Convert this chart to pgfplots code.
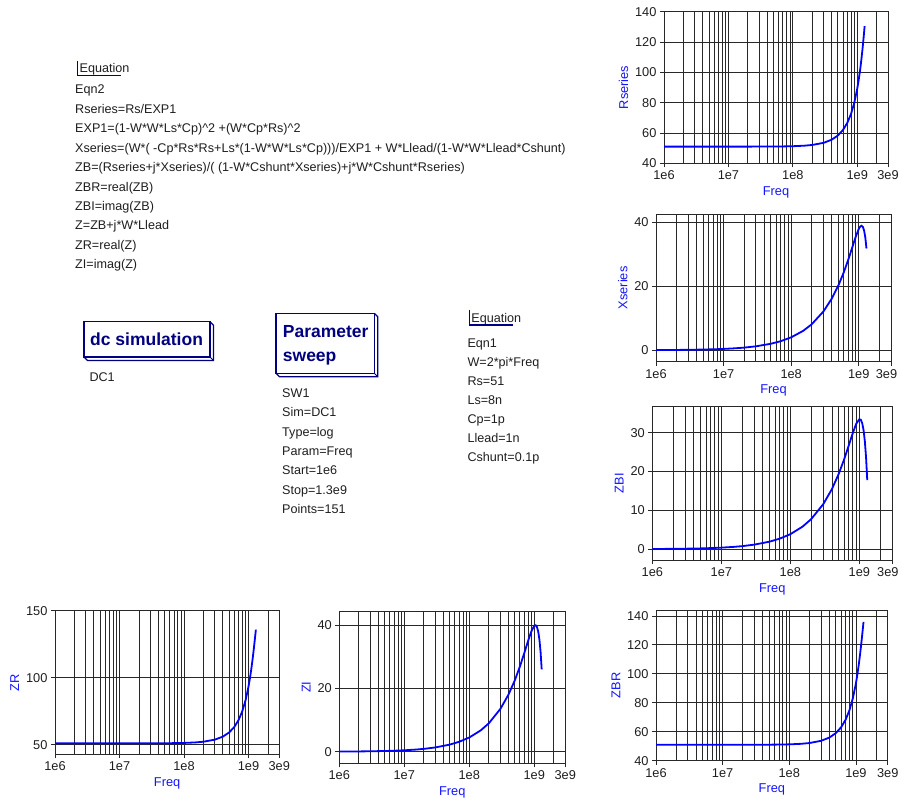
\documentclass[border=0pt]{standalone}
\usepackage{fontspec}
\setmainfont{Liberation Sans}
\usepackage{pgfplots}
\usepackage{pgfplotstable}
\pgfplotsset{compat=1.18}
\definecolor{navy}{RGB}{0,0,128}
\definecolor{gridc}{RGB}{40,40,40}
\definecolor{curve}{RGB}{15,15,240}
\definecolor{lbl}{RGB}{20,20,255}
\definecolor{txt}{RGB}{30,30,30}
\pgfplotstableread{
f R X ZBR ZBI ZI
1e6 51.000 0.0402 51.000 0.0386 0.0449
2e6 51.000 0.0804 51.000 0.0772 0.0897
3e6 51.000 0.1206 51.000 0.1157 0.1346
5e6 51.001 0.2010 51.001 0.1929 0.2243
7e6 51.001 0.2814 51.001 0.2700 0.3140
1e7 51.003 0.4021 51.004 0.3857 0.4486
1.5e7 51.006 0.6031 51.007 0.5786 0.6728
2e7 51.011 0.8041 51.012 0.7715 0.8971
3e7 51.024 1.2062 51.026 1.1572 1.3457
5e7 51.068 2.0106 51.074 1.9287 2.2429
7e7 51.132 2.8151 51.145 2.7005 3.1403
1e8 51.271 4.0227 51.296 3.8584 4.4867
1.5e8 51.612 6.0378 51.669 5.7898 6.7323
2e8 52.094 8.0572 52.197 7.7233 8.9800
3e8 53.504 12.1125 53.744 11.5969 13.4819
4e8 55.561 16.1905 56.004 15.4715 17.9847
5e8 58.353 20.2811 59.084 19.3211 22.4627
6e8 62.006 24.3525 63.126 23.0889 26.8588
7e8 66.688 28.3371 68.322 26.6655 31.0638
8e8 72.617 32.0930 74.915 29.8399 34.8665
9e8 80.066 35.4348 83.196 32.3156 37.9705
1e9 89.352 37.9276 93.459 33.4785 39.7617
1.05e9 94.786 38.6705 99.405 33.3040 39.9014
1.1e9 100.794 38.9324 105.902 32.4275 39.3390
1.15e9 107.393 38.5698 112.919 30.6621 37.8878
1.2e9 114.577 37.4069 120.373 27.7919 35.3317
1.25e9 122.301 35.2343 128.111 23.5811 31.4351
1.3e9 130.460 31.8130 135.887 17.7951 25.9632
}\data
\pgfplotsset{every axis/.append style={
  scale only axis,
  xmin=1e6, xmax=3e9,
  xtick={1e6,1e7,1e8,1e9,3e9}, xticklabels={1e6,1e7,1e8,1e9,3e9},
  minor xtick={2e6,3e6,4e6,5e6,6e6,7e6,8e6,9e6,2e7,3e7,4e7,5e7,6e7,7e7,8e7,9e7,2e8,3e8,4e8,5e8,6e8,7e8,8e8,9e8,2e9},
  grid=both,
  major grid style={gridc, line width=0.8pt},
  minor grid style={gridc, line width=0.8pt},
  axis line style={gridc, line width=0.8pt},
  tick style={gridc, line width=0.8pt},
  tick align=outside, major tick length=4pt, minor tick length=0pt,
  xtick pos=bottom, ytick pos=left,
  tick label style={font=\fontsize{12.8}{14}\selectfont, text=txt},
  label style={font=\fontsize{12.8}{14}\selectfont, text=lbl},
  xlabel={Freq},
  every axis plot/.append style={curve, line width=1.8pt, no marks},
}}
\newcommand{\tline}[3]{\node[anchor=base west, inner sep=0pt, font=\fontsize{12.6}{14}\selectfont, text=txt] at (#1pt,-#2pt) {#3};}
\newcommand{\simbox}[4]{%
  \draw[navy, line width=1.5pt] (#1pt,-#2pt) rectangle (#3pt,-#4pt);
  \draw[navy, line width=1.2pt] (#3pt,-#2pt) -- ++(3.5pt,-3.5pt) -- ++(0pt,-#4pt+#2pt) -- ++(-#3pt+#1pt,0pt) -- (#1pt,-#4pt);
  \draw[navy, line width=1.0pt] (#3pt,-#4pt) -- ++(3.5pt,-3.5pt);
}
\newcommand{\eqbracket}[3]{\draw[navy, line width=1.4pt] (#1pt,-#2pt) -- (#1pt,-#3pt) -- ++(43.5pt,0pt);}
\newcommand{\edgelabel}{\makebox[0pt][c]{3e9\hspace{9pt}}}
\begin{document}
\begin{tikzpicture}
\useasboundingbox (0pt,0pt) rectangle (901pt,-805pt);
% Equation 2 block
\eqbracket{77.3}{61}{75.7}
\tline{79.5}{73}{Equation}
\tline{75}{94}{Eqn2}
\tline{75}{113.4}{Rseries=Rs/EXP1}
\tline{75}{132.8}{EXP1=(1-W*W*Ls*Cp)\textasciicircum 2 +(W*Cp*Rs)\textasciicircum 2}
\tline{75}{152.2}{Xseries=(W*( -Cp*Rs*Rs+Ls*(1-W*W*Ls*Cp)))/EXP1 + W*Llead/(1-W*W*Llead*Cshunt)}
\tline{75}{171.6}{ZB=(Rseries+j*Xseries)/( (1-W*Cshunt*Xseries)+j*W*Cshunt*Rseries)}
\tline{75}{191}{ZBR=real(ZB)}
\tline{75}{210.4}{ZBI=imag(ZB)}
\tline{75}{229.8}{Z=ZB+j*W*Llead}
\tline{75}{249.2}{ZR=real(Z)}
\tline{75}{268.6}{ZI=imag(Z)}
% dc simulation
\simbox{84}{321.7}{210}{357}
\node[anchor=base west, inner sep=0pt, font=\fontsize{17.5}{20}\selectfont\bfseries, text=navy] at (90pt,-345.7pt) {dc simulation};
\tline{89.3}{381}{DC1}
% parameter sweep
\simbox{276}{313.3}{374.3}{373.3}
\node[anchor=base west, inner sep=0pt, font=\fontsize{17.5}{20}\selectfont\bfseries, text=navy] at (282.7pt,-337.7pt) {Parameter};
\node[anchor=base west, inner sep=0pt, font=\fontsize{17.5}{20}\selectfont\bfseries, text=navy] at (282.7pt,-361.7pt) {sweep};
\tline{282}{397.6}{SW1}
\tline{282}{416.9}{Sim=DC1}
\tline{282}{436.2}{Type=log}
\tline{282}{455.5}{Param=Freq}
\tline{282}{474.8}{Start=1e6}
\tline{282}{494.1}{Stop=1.3e9}
\tline{282}{513.4}{Points=151}
% Equation 1 block
\eqbracket{469.3}{309.5}{325}
\tline{471.2}{322.6}{Equation}
\tline{467.3}{347}{Eqn1}
\tline{467.3}{366.1}{W=2*pi*Freq}
\tline{467.3}{385.2}{Rs=51}
\tline{467.3}{404.3}{Ls=8n}
\tline{467.3}{423.4}{Cp=1p}
\tline{467.3}{442.5}{Llead=1n}
\tline{467.3}{461.6}{Cshunt=0.1p}
% Rseries
\begin{axis}[xmode=log, anchor=south west, at={(664pt,-163.3pt)}, width=224pt, height=151.6pt,
  ymin=40, ymax=140, ytick={40,60,80,100,120,140}, ylabel={Rseries},
  /pgf/number format/assume math mode=true]
\addplot table[x=f, y=R] {\data};
\end{axis}
% Xseries
\begin{axis}[xmode=log, anchor=south west, at={(656pt,-361.7pt)}, width=235pt, height=147.7pt,
  ymin=-3.6, ymax=42.6, ytick={0,20,40}, ylabel={Xseries},
  xticklabels={1e6,1e7,1e8,1e9,\edgelabel},
  /pgf/number format/assume math mode=true]
\addplot table[x=f, y=X] {\data};
\end{axis}
% ZBI
\begin{axis}[xmode=log, anchor=south west, at={(652.3pt,-560pt)}, width=240pt, height=153.3pt,
  ymin=-2.8, ymax=36.7, ytick={0,10,20,30}, ylabel={ZBI},
  xticklabels={1e6,1e7,1e8,1e9,\edgelabel},
  /pgf/number format/assume math mode=true]
\addplot table[x=f, y=ZBI] {\data};
\end{axis}
% ZBR
\begin{axis}[xmode=log, anchor=south west, at={(656pt,-760.7pt)}, width=231.7pt, height=150.7pt,
  ymin=40, ymax=144.1, ytick={40,60,80,100,120,140}, ylabel={ZBR},
  /pgf/number format/assume math mode=true]
\addplot table[x=f, y=ZBR] {\data};
\end{axis}
% ZR
\begin{axis}[xmode=log, anchor=south west, at={(55pt,-754.3pt)}, width=224.3pt, height=143.6pt,
  ymin=42.8, ymax=150, ytick={50,100,150}, ylabel={ZR},
  /pgf/number format/assume math mode=true]
\addplot table[x=f, y=ZBR] {\data};
\end{axis}
% ZI
\begin{axis}[xmode=log, anchor=south west, at={(339.3pt,-763.3pt)}, width=226pt, height=152.3pt,
  ymin=-3.66, ymax=44.4, ytick={0,20,40}, ylabel={ZI},
  /pgf/number format/assume math mode=true]
\addplot table[x=f, y=ZI] {\data};
\end{axis}
\end{tikzpicture}
\end{document}
